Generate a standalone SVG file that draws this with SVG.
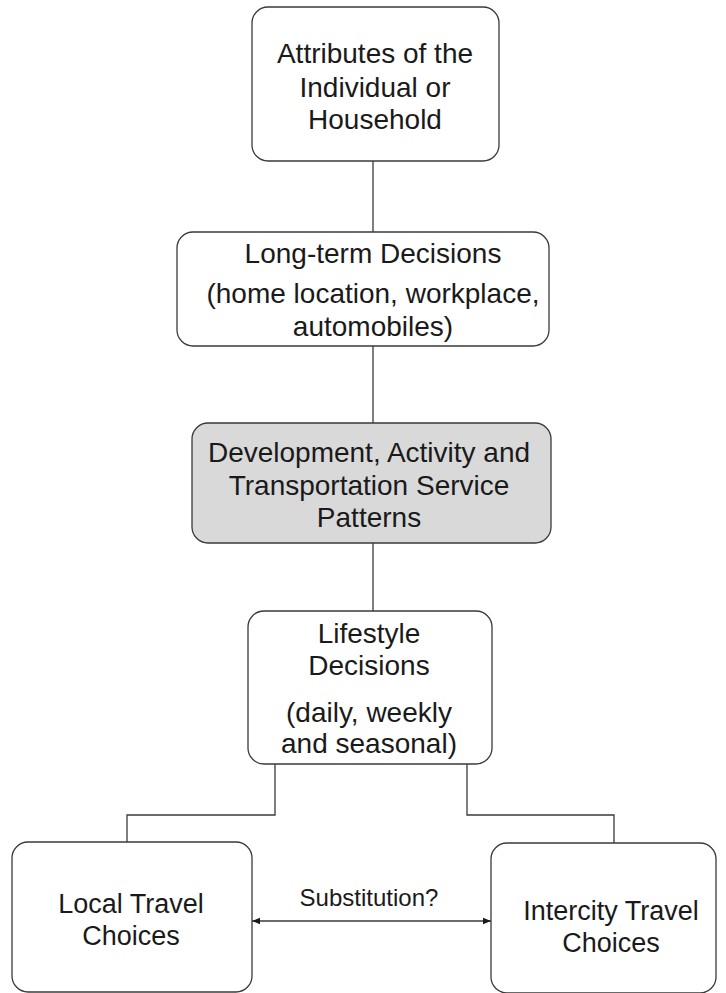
<svg xmlns="http://www.w3.org/2000/svg" width="726" height="993" viewBox="0 0 726 993">
<defs>
<style>
.box{fill:#ffffff;stroke:#3a3a3a;stroke-width:1.3}
.grey{fill:#d9d9d9}
.t{font-family:"Liberation Sans",Arial,sans-serif;font-size:28px;fill:#1a1a1a;text-anchor:middle}
.b{font-size:27px}
.s{font-size:24px}
.c{fill:none;stroke:#3a3a3a;stroke-width:1.3}
</style>
<marker id="ah" viewBox="0 0 10 10" refX="10" refY="5" markerWidth="8" markerHeight="8" orient="auto-start-reverse" markerUnits="userSpaceOnUse">
<path d="M0,1 L10,5 L0,9 z" fill="#1a1a1a"/>
</marker>
</defs>
<rect width="726" height="993" fill="#ffffff"/>
<g id="connectors">
<line class="c" x1="373" y1="161" x2="373" y2="232"/>
<line class="c" x1="373" y1="346" x2="373" y2="423"/>
<line class="c" x1="373" y1="543" x2="373" y2="611"/>
<polyline class="c" points="275,764 275,815 127,815 127,842"/>
<polyline class="c" points="467,764 467,815 614,815 614,843"/>
<line class="c" x1="252" y1="921" x2="491" y2="921" marker-start="url(#ah)" marker-end="url(#ah)"/>
<text class="t s" x="369" y="906">Substitution?</text>
</g>
<g id="attributes">
<rect class="box" x="252" y="7" width="247" height="154" rx="16"/>
<text class="t" x="375" y="63">Attributes of the</text>
<text class="t" x="375" y="97">Individual or</text>
<text class="t" x="375" y="129">Household</text>
</g>
<g id="longterm">
<rect class="box" x="177" y="232" width="372" height="114" rx="16"/>
<text class="t" x="373" y="263">Long-term Decisions</text>
<text class="t" x="373" y="303">(home location, workplace,</text>
<text class="t" x="373" y="336">automobiles)</text>
</g>
<g id="development">
<rect class="box grey" x="192" y="423" width="359" height="120" rx="16"/>
<text class="t" x="369" y="462">Development, Activity and</text>
<text class="t" x="369" y="495">Transportation Service</text>
<text class="t" x="369" y="527">Patterns</text>
</g>
<g id="lifestyle">
<rect class="box" x="248" y="611" width="244" height="153" rx="16"/>
<text class="t" x="369" y="643">Lifestyle</text>
<text class="t" x="369" y="675">Decisions</text>
<text class="t" x="369" y="722">(daily, weekly</text>
<text class="t" x="369" y="753">and seasonal)</text>
</g>
<g id="local">
<rect class="box" x="12" y="842" width="240" height="150" rx="16"/>
<text class="t b" x="131" y="913">Local Travel</text>
<text class="t b" x="131" y="945">Choices</text>
</g>
<g id="intercity">
<rect class="box" x="491" y="843" width="225" height="150" rx="16"/>
<text class="t b" x="611" y="920">Intercity Travel</text>
<text class="t b" x="611" y="952">Choices</text>
</g>
</svg>
